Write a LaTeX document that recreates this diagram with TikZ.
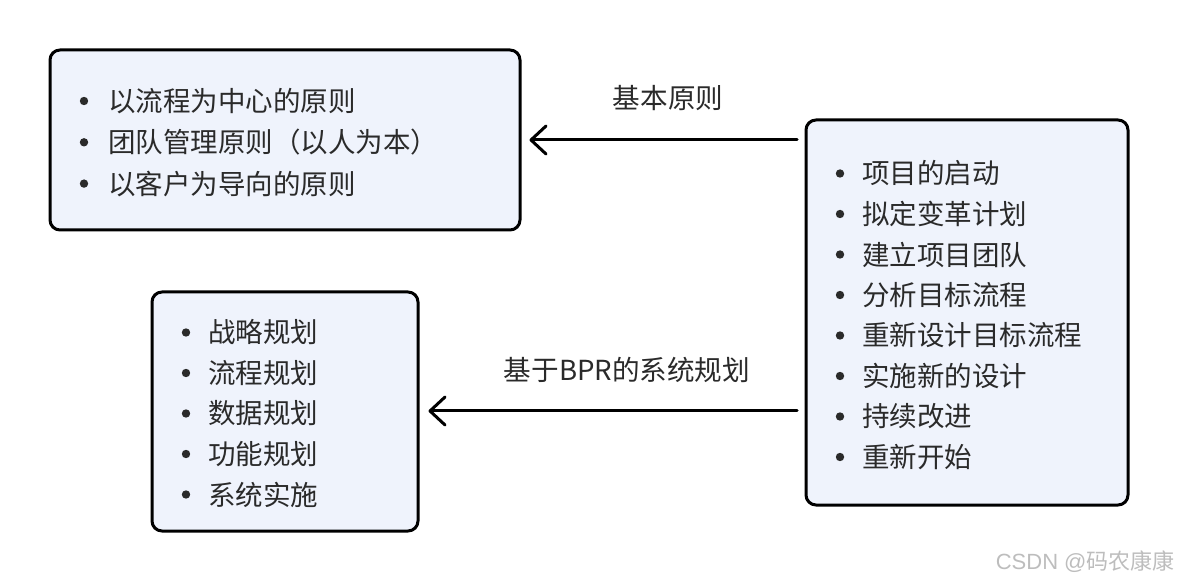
\documentclass[tikz,border=0pt]{standalone}
\usepackage{fontspec}
\setmainfont{Noto Sans CJK SC}
\newfontfamily\wmfont{Liberation Sans}
\usetikzlibrary{arrows.meta}
\definecolor{boxfill}{HTML}{EFF3FC}
\definecolor{txt}{HTML}{2A2A2A}
\definecolor{wm}{HTML}{BDBDBD}
\tikzset{
  box/.style={draw=black, line width=1.5pt, rounded corners=5pt, fill=boxfill, inner sep=0pt},
  item/.style={anchor=west, inner sep=0pt, text=txt, font=\fontsize{13.75pt}{15pt}\selectfont},
  dot/.style={circle, fill=txt, inner sep=0pt, minimum size=4.2pt},
  lbl/.style={inner sep=0pt, text=txt, font=\fontsize{13.8pt}{15pt}\selectfont},
  conn/.style={line width=1.5pt, line cap=round, -{Straight Barb[length=7.5pt, width=14pt, line width=1.5pt, round]}},
}
\begin{document}
\begin{tikzpicture}[x=0.5pt, y=-0.5pt]
\useasboundingbox (0,0) rectangle (1178,582);
% boxes
\node[box, minimum width=235pt, minimum height=90pt] (A) at (285,140) {};
\node[box, minimum width=133pt, minimum height=119.5pt] (B) at (285,411.5) {};
\node[box, minimum width=161pt, minimum height=192.5pt] (C) at (967,312.5) {};
% box A items
\foreach \t [count=\i from 0] in {以流程为中心的原则,团队管理原则（以人为本）,以客户为导向的原则} {
  \node[dot] (ad\i) at (84,{101+41.3*\i}) {};
  \node[item] (a\i) at (108,{101+41.3*\i}) {\t};
}
% box B items
\foreach \t [count=\i from 0] in {战略规划,流程规划,数据规划,功能规划,系统实施} {
  \node[dot] (bd\i) at (186,{332.5+40.5*\i}) {};
  \node[item] (b\i) at (208,{332.5+40.5*\i}) {\t};
}
% box C items
\foreach \t [count=\i from 0] in {项目的启动,拟定变革计划,建立项目团队,分析目标流程,重新设计目标流程,实施新的设计,持续改进,重新开始} {
  \node[dot] (cd\i) at (840,{173.5+40.5*\i}) {};
  \node[item] (c\i) at (862,{173.5+40.5*\i}) {\t};
}
% connectors
\coordinate (s1) at (797,140);
\coordinate (s2) at (797,411);
\draw[conn] (s1) -- ([xshift=4pt]A.east |- s1);
\draw[conn] (s2) -- ([xshift=4.5pt]B.east |- s2);
\node[lbl] (l1) at (668,98) {基本原则};
\node[lbl] (l2) at (627,370) {基于BPR的系统规划};
% watermark
\node[anchor=east, inner sep=0pt, text=wm, font=\fontsize{11pt}{12pt}\selectfont] (wmk) at (1175,562) {\wmfont CSDN @\normalfont 码农康康};
\end{tikzpicture}
\end{document}
